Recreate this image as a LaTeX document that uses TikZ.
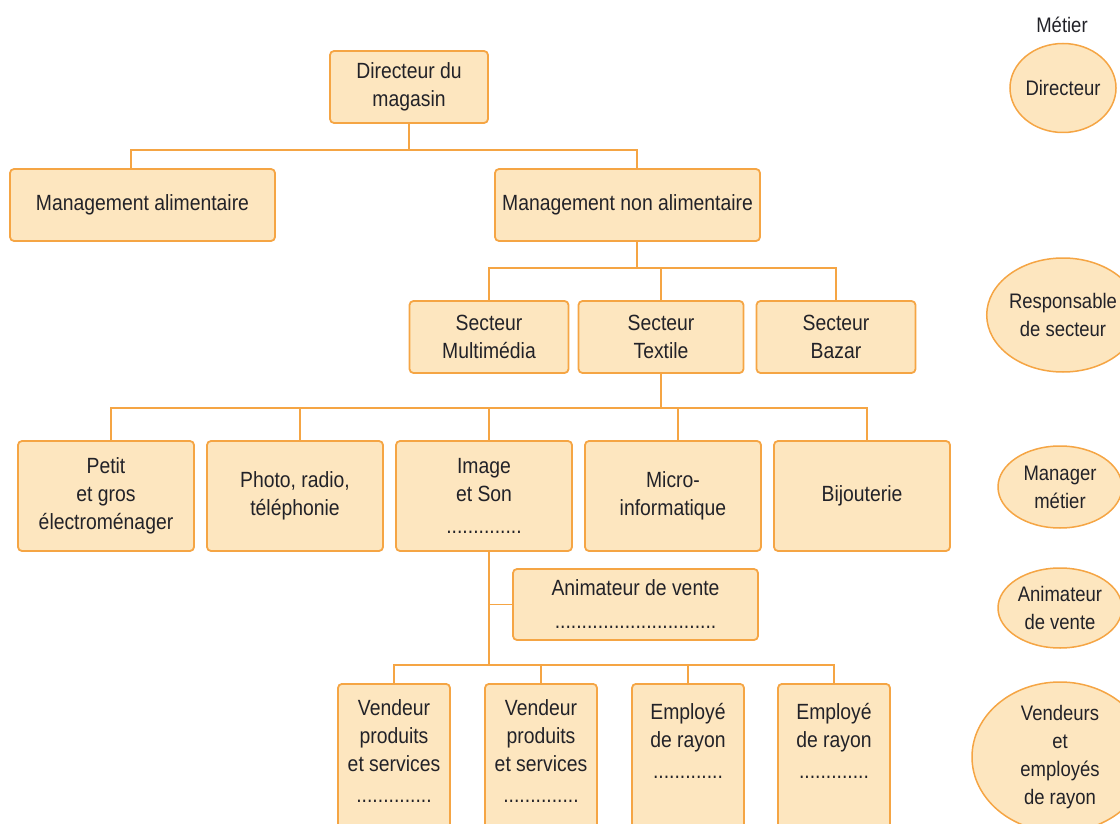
\documentclass[tikz,border=0pt]{standalone}
\usepackage{fontspec}
\setmainfont{Liberation Sans}[FakeStretch=0.88]
\usetikzlibrary{shapes.geometric}
\definecolor{boxfill}{HTML}{FDE6BF}
\definecolor{boxline}{HTML}{F5A544}
\definecolor{txt}{HTML}{222228}
\tikzset{
  orgbox/.style={draw=boxline, fill=boxfill, line width=1.8pt, rounded corners=4pt,
    align=center, inner sep=2pt, text=txt,
    font=\fontsize{22}{28}\selectfont},
  role/.style={ellipse, draw=boxline, fill=boxfill, line width=1.5pt, align=center,
    inner sep=0pt, text=txt, font=\fontsize{21}{28}\selectfont},
  link/.style={draw=boxline, line width=1.8pt}
}
\begin{document}
\begin{tikzpicture}[x=1pt, y=-1pt]
\useasboundingbox (0,0) rectangle (1120,824);
\clip (0,0) rectangle (1120,824);
% level 1-2
\node[orgbox, minimum width=158, minimum height=72] (dir) at (409,87) {Directeur du\\magasin};
\node[orgbox, minimum width=265, minimum height=72] (ma) at (142.5,205) {Management alimentaire};
\node[orgbox, minimum width=265, minimum height=72] (mna) at (627.5,205) {Management non alimentaire};
% level 3
\node[orgbox, minimum width=159, minimum height=72] (smm) at (489,337) {Secteur\\Multimédia};
\node[orgbox, minimum width=165, minimum height=72] (tex) at (661,337) {Secteur\\Textile};
\node[orgbox, minimum width=159, minimum height=72] (baz) at (836,337) {Secteur\\Bazar};
% level 4
\node[orgbox, minimum width=176, minimum height=110] (pg) at (106,496) {Petit\\et gros\\électroménager};
\node[orgbox, minimum width=176, minimum height=110] (ph) at (295,496) {Photo, radio,\\téléphonie};
\node[orgbox, minimum width=176, minimum height=110] (im) at (484,496) {Image\\et Son\\[4pt]..............};
\node[orgbox, minimum width=176, minimum height=110] (mi) at (673,496) {Micro-\\informatique};
\node[orgbox, minimum width=176, minimum height=110] (bij) at (862,496) {Bijouterie};
% animateur
\node[orgbox, minimum width=245, minimum height=71] (anim) at (635.5,604.5) {Animateur de vente\\[5pt]..............................};
% bottom
\node[orgbox, minimum width=112, minimum height=150, anchor=north] (v1) at (394,683) {Vendeur\\produits\\et services\\[3pt]..............\\[-12pt]\mbox{}};
\node[orgbox, minimum width=112, minimum height=150, anchor=north] (v2) at (541,683) {Vendeur\\produits\\et services\\[3pt]..............\\[-12pt]\mbox{}};
\node[orgbox, minimum width=112, minimum height=150, anchor=north] (e1) at (688,683) {Employé\\de rayon\\[3pt].............\\\strut};
\node[orgbox, minimum width=112, minimum height=150, anchor=north] (e2) at (834,683) {Employé\\de rayon\\[3pt].............\\\strut};
% junctions
\coordinate (b1) at (409,150);
\coordinate (b2) at (637,268);
\coordinate (b3) at (661,408);
\coordinate (b4) at (489,665);
% connectors
\draw[link] (dir.south) -- (b1);
\draw[link] ([xshift=-11.5]ma.north) |- (b1) -| ([xshift=9.5]mna.north);
\draw[link] ([xshift=9.5]mna.south) -- (b2);
\draw[link] (smm.north) |- (b2) -| (baz.north);
\draw[link] (tex.north) -- (tex.north |- b2);
\draw[link] (tex.south) -- (b3);
\draw[link] ([xshift=5]pg.north) |- (b3) -| ([xshift=5]bij.north);
\draw[link] ([xshift=5]ph.north) -- ([xshift=5]ph.north |- b3);
\draw[link] ([xshift=5]im.north) -- ([xshift=5]im.north |- b3);
\draw[link] ([xshift=5]mi.north) -- ([xshift=5]mi.north |- b3);
\draw[link] ([xshift=5]im.south) -- (b4);
\draw[link] (anim.west) -- (anim.west -| b4);
\draw[link] (v1.north) |- (b4) -| (e2.north);
\draw[link] (v2.north) -- (v2.north |- b4);
\draw[link] (e1.north) -- (e1.north |- b4);
% right column
\node[text=txt, font=\fontsize{21}{24}\selectfont] (metier) at (1062,25) {Métier};
\node[role, minimum width=106, minimum height=89] (rdir) at (1063,88) {Directeur};
\node[role, minimum width=128, minimum height=114] (rresp) at (1063,315) {Responsable\\de secteur};
\node[role, minimum width=124, minimum height=82] (rman) at (1060,487) {Manager\\métier};
\node[role, minimum width=124, minimum height=80] (ranim) at (1060,608) {Animateur\\de vente};
\node[role, minimum width=176, minimum height=150] (rvend) at (1060,757) {Vendeurs\\et\\employés\\de rayon};
\end{tikzpicture}
\end{document}
